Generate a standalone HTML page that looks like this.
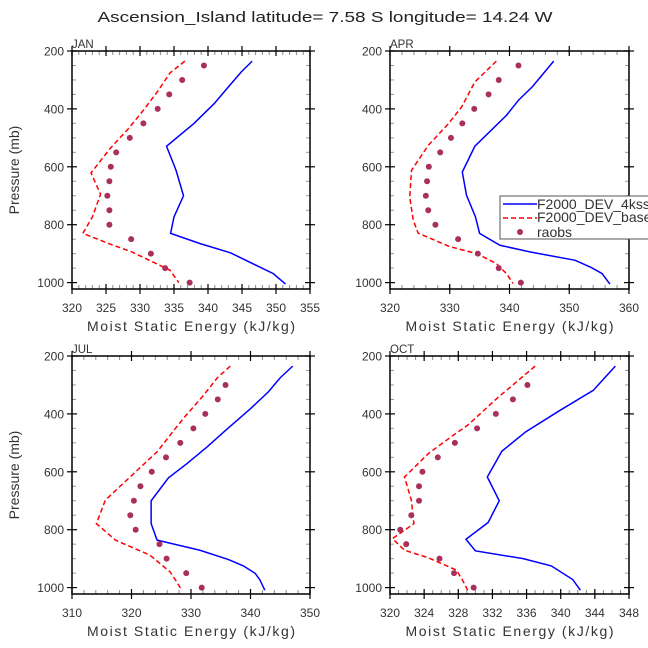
<!DOCTYPE html>
<html><head><meta charset="utf-8"><style>
body{margin:0;background:#fff}
svg{display:block;font-family:"Liberation Sans",sans-serif}
</style></head><body>
<svg id="chart" width="648" height="648" viewBox="0 0 648 648">
<text x="325" y="22" text-anchor="middle" font-size="15" fill="#222" textLength="455" lengthAdjust="spacingAndGlyphs">Ascension_Island  latitude= 7.58 S longitude= 14.24 W</text>
</svg>
<script>
// ---- data ----
const obsPressure = [250,300,350,400,450,500,550,600,650,700,750,800,850,900,950,1000];
const obsPressureLate = [300,350,400,450,500,550,600,650,700,750,800,850,900,950,1000];

const janBlueP = [235,272,324,382,451,529,612,700,773,830,865,897,969,1005];
const janBlueX = [346.5,344.9,343.0,340.9,337.9,333.9,335.3,336.4,335.0,334.5,338.8,343.3,349.6,351.4];
const janRedP = [235,276,336,405,468,537,621,695,773,830,867,894,957,1000];
const janRedX = [336.6,334.4,332.7,330.5,328.3,325.6,322.8,324.2,323.0,321.6,325.6,328.8,334.4,335.7];
const janObs = [339.4,336.2,334.3,332.6,330.5,328.5,326.5,325.7,325.5,325.2,325.5,325.5,328.7,331.6,333.7,337.3];

const aprBlueP = [235,324,370,422,529,618,698,773,830,871,894,923,948,969,1005];
const aprBlueX = [347.4,343.8,341.5,339.5,334.2,332.1,332.8,334.3,335.0,338.4,343.4,351.0,353.7,355.5,356.8];
const aprRedP = [235,307,393,453,526,612,704,785,829,875,900,934,969,1003];
const aprRedX = [337.8,334.2,332.0,329.7,326.4,323.6,323.3,323.9,324.7,329.9,334.5,337.8,339.5,340.6];
const aprObs = [341.5,338.2,336.5,334.1,332.1,330.2,328.4,326.5,326.2,326.0,326.4,327.6,331.4,334.7,338.2,341.9];

const julBlueP = [235,275,324,382,457,514,572,621,700,779,836,871,903,925,951,974,1009];
const julBlueX = [347.1,345.0,343.0,340.0,335.8,332.7,329.3,326.2,323.3,323.3,324.3,331.5,336.3,338.8,340.8,341.6,342.4];
const julRedP = [235,276,336,416,531,623,698,779,836,888,946,980,1011];
const julRedX = [336.6,334.4,332.1,328.7,324.3,319.5,315.6,314.1,317.3,323.1,326.5,327.6,328.5];
const julObs = [335.8,334.5,332.4,330.4,328.2,325.8,323.4,321.5,320.4,319.8,320.7,324.7,325.9,329.2,331.8];

const octBlueP = [235,319,388,462,529,618,700,775,833,873,900,925,972,1009];
const octBlueX = [346.4,343.8,339.9,335.9,333.1,331.4,332.8,331.5,328.9,330.0,335.6,338.9,341.4,342.3];
const octRedP = [235,290,342,439,474,537,618,698,779,831,871,897,940,980,1009];
const octRedX = [337.0,334.8,332.7,329.1,327.4,324.5,321.7,322.5,322.8,320.3,321.7,324.5,327.8,328.6,329.1];
const octObs = [336.1,334.4,332.4,330.2,327.6,325.6,323.8,323.4,323.4,322.5,321.2,321.9,325.8,327.5,329.8];

const janTicks = [320,325,330,335,340,345,350,355];
const aprTicks = [320,330,340,350,360];
const julTicks = [310,320,330,340,350];
const octTicks = [320,324,328,332,336,340,344,348];
const pTicks = [200,400,600,800,1000];
const legendLabels = ["F2000_DEV_4kss","F2000_DEV_base","raobs"];

// ---- drawing ----
const NS="http://www.w3.org/2000/svg";
const svg=document.getElementById('chart');
function mk(tag,attrs,parent){const e=document.createElementNS(NS,tag);for(const k in attrs)e.setAttribute(k,attrs[k]);(parent||svg).appendChild(e);return e;}

const panels=[
 {name:'jan',label:'JAN',x0:72,x1:310,y0:51,xmin:320,xmax:355,ticks:janTicks,minor:1,bp:janBlueP,bx:janBlueX,rp:janRedP,rx:janRedX,op:obsPressure,ox:janObs,ylab:true},
 {name:'apr',label:'APR',x0:390,x1:629,y0:51,xmin:320,xmax:360,ticks:aprTicks,minor:2,bp:aprBlueP,bx:aprBlueX,rp:aprRedP,rx:aprRedX,op:obsPressure,ox:aprObs,ylab:false},
 {name:'jul',label:'JUL',x0:72,x1:310,y0:356,xmin:310,xmax:350,ticks:julTicks,minor:2,bp:julBlueP,bx:julBlueX,rp:julRedP,rx:julRedX,op:obsPressureLate,ox:julObs,ylab:true},
 {name:'oct',label:'OCT',x0:390,x1:629,y0:356,xmin:320,xmax:348,ticks:octTicks,minor:1,bp:octBlueP,bx:octBlueX,rp:octRedP,rx:octRedX,op:obsPressureLate,ox:octObs,ylab:false}
];
const PPM=0.2895; // px per mb
panels.forEach(P=>{
 const g=mk('g',{});
 
 
 const xs=v=>P.x0+(v-P.xmin)/(P.xmax-P.xmin)*(P.x1-P.x0);
 const ys=p=>P.y0+(p-200)*PPM;
 const yb=P.y0+238;
 for(let p=250;p<=1000;p+=100){
  [P.x0,P.x1].forEach((x,i)=>{mk('line',{x1:x,x2:x+(i?-4:4),y1:ys(p),y2:ys(p),stroke:'#999','stroke-width':1},g);});
 }
 for(let p=300;p<=1000;p+=200){
  [P.x0,P.x1].forEach((x,i)=>{mk('line',{x1:x,x2:x+(i?-4:4),y1:ys(p),y2:ys(p),stroke:'#999','stroke-width':1},g);});
 }
 pTicks.forEach(p=>{
  mk('line',{x1:P.x0-5,x2:P.x0+5,y1:ys(p),y2:ys(p),stroke:'#000','stroke-width':1.2},g);
  mk('line',{x1:P.x1-5,x2:P.x1+5,y1:ys(p),y2:ys(p),stroke:'#000','stroke-width':1.2},g);
  const t=mk('text',{x:P.x0-8,y:ys(p)+4.5,'text-anchor':'end','font-size':12,fill:'#333'},g);
  
  
  t.textContent=p;
 });
 for(let v=P.xmin;v<=P.xmax+1e-6;v+=P.minor){
  [P.y0,yb].forEach((y,i)=>mk('line',{x1:xs(v),x2:xs(v),y1:y,y2:y+(i?-4:4),stroke:'#888','stroke-width':1},g));
 }
 P.ticks.forEach(v=>{
  mk('line',{x1:xs(v),x2:xs(v),y1:P.y0-5,y2:P.y0+5,stroke:'#000','stroke-width':1.2},g);
  mk('line',{x1:xs(v),x2:xs(v),y1:yb-5,y2:yb+5,stroke:'#000','stroke-width':1.2},g);
  const t=mk('text',{x:xs(v),y:yb+23,'text-anchor':'middle','font-size':12,fill:'#333'},g);
  
  
  t.textContent=v;
 });
 const fr=mk('rect',{x:P.x0,y:P.y0,width:P.x1-P.x0,height:238,fill:'none',stroke:'#000','stroke-width':1.5},g);
 
 
 const lb=mk('text',{x:P.x0,y:P.y0-3,'font-size':11.5,fill:'#333'},g);
 
 
 lb.textContent=P.label;
 const xt=mk('text',{x:(P.x0+P.x1)/2,y:yb+42,'text-anchor':'middle','font-size':14,fill:'#333',textLength:208},g);
 
 
 xt.textContent='Moist Static Energy (kJ/kg)';
 if(P.ylab){
  const yt=mk('text',{x:0,y:0,transform:`translate(19,${P.y0+119}) rotate(-90)`,'text-anchor':'middle','font-size':14,fill:'#333'},g);
  
  
  yt.textContent='Pressure (mb)';
 }
 const bl=mk('polyline',{points:P.bp.map((p,i)=>xs(P.bx[i])+','+ys(p)).join(' '),fill:'none',stroke:'#0000ff','stroke-width':1.5},g);
 
 
 const rl=mk('polyline',{points:P.rp.map((p,i)=>xs(P.rx[i])+','+ys(p)).join(' '),fill:'none',stroke:'#ff0000','stroke-width':1.5,'stroke-dasharray':'5,3'},g);
 
 
 P.op.forEach((p,i)=>{
  const c=mk('circle',{cx:xs(P.ox[i]),cy:ys(p),r:3,fill:'#a8305a'},g);
  
  
 });
});
const lg=mk('g',{});


mk('rect',{x:500,y:196,width:160,height:43,fill:'#fff',stroke:'#555','stroke-width':1},lg);
const ly=[204,222,232];
const l1=mk('line',{x1:503,x2:537,y1:ly[0],y2:ly[0],stroke:'#0000ff','stroke-width':1.5},lg);


const l2=mk('line',{x1:503,x2:537,y1:ly[1]-4,y2:ly[1]-4,stroke:'#ff0000','stroke-width':1.5,'stroke-dasharray':'5,3'},lg);


const l3=mk('circle',{cx:520,cy:ly[2],r:3,fill:'#a8305a'},lg);


legendLabels.forEach((s,i)=>{
 const t=mk('text',{x:537,y:[ly[0]+5,ly[1],ly[2]+5][i],'font-size':14,fill:'#333'},lg);
 
 
 t.textContent=s;
});
</script>
</body></html>
